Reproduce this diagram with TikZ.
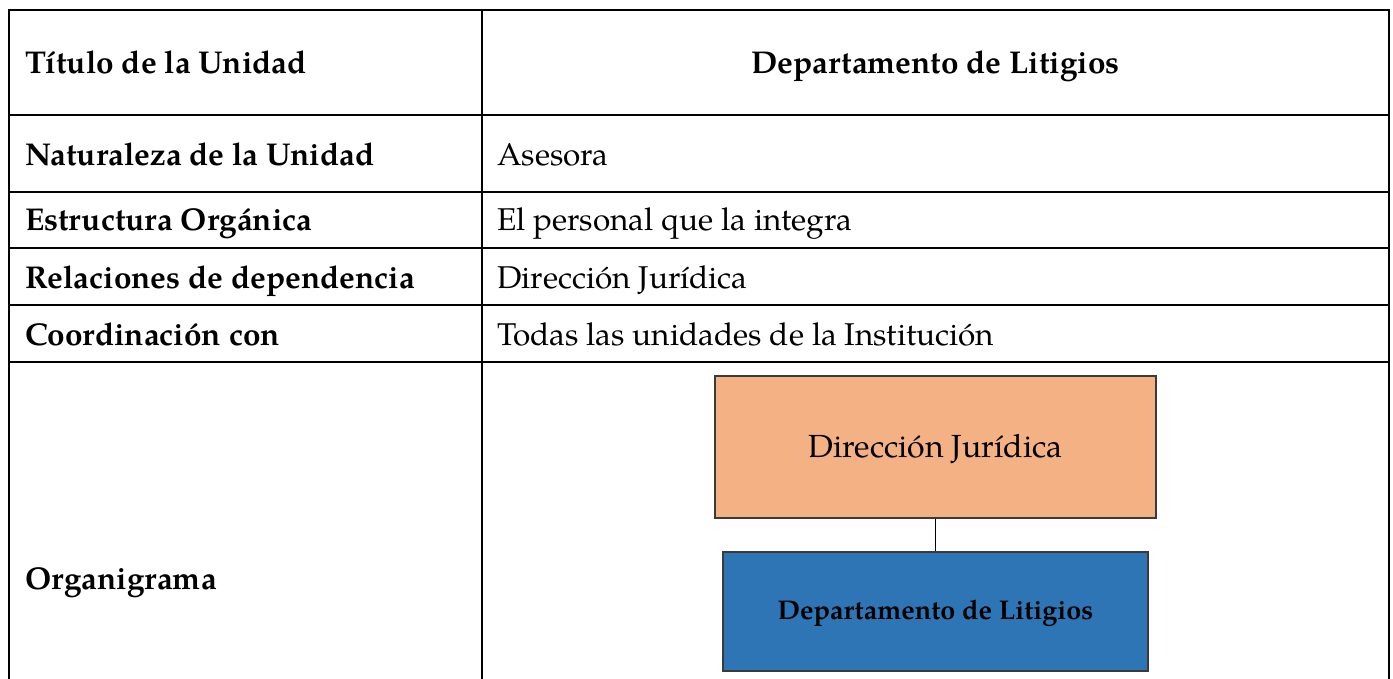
\documentclass[tikz,border=0pt]{standalone}
\usepackage{fontspec}
\setmainfont{TeX Gyre Pagella}
\definecolor{boxorange}{HTML}{F4B183}
\definecolor{boxblue}{HTML}{2E75B6}
\definecolor{boxedge}{HTML}{3A3A3A}
\begin{document}
\begin{tikzpicture}[x=1pt,y=-1pt,
  grid/.style={line width=1.7pt,black},
  lbl/.style={anchor=base west,inner sep=0pt,font=\fontsize{31.5}{36}\selectfont\bfseries},
  val/.style={anchor=base west,inner sep=0pt,font=\fontsize{31.5}{36}\selectfont},
  orgbox/.style={draw=boxedge,line width=1.4pt,inner sep=0pt}]
\useasboundingbox (0,0) rectangle (1393,679);
% table grid
\draw[grid] (9,700) -- (9,10) -- (1389,10) -- (1389,700);
\draw[grid] (482,10) -- (482,700);
\draw[grid] (9,115) -- (1389,115);
\draw[grid] (9,192) -- (1389,192);
\draw[grid] (9,248) -- (1389,248);
\draw[grid] (9,305) -- (1389,305);
\draw[grid] (9,362) -- (1389,362);
% labels
\node[lbl] (l1) at (25,74) {Título de la Unidad};
\node[lbl] (l2) at (25,166) {Naturaleza de la Unidad};
\node[lbl] (l3) at (25,231) {Estructura Orgánica};
\node[lbl] (l4) at (25,288) {Relaciones de dependencia};
\node[lbl] (l5) at (25,345) {Coordinación con};
\node[lbl] (l6) at (25,589) {Organigrama};
% values
\node[anchor=base,inner sep=0pt,font=\fontsize{31.5}{36}\selectfont\bfseries] (v1) at (935.5,74) {Departamento de Litigios};
\node[val] (v2) at (497,166) {Asesora};
\node[val] (v3) at (497,231) {El personal que la integra};
\node[val] (v4) at (497,288) {Dirección Jurídica};
\node[val] (v5) at (497,345) {Todas las unidades de la Institución};
% organigram
\node[orgbox,fill=boxorange,minimum width=441pt,minimum height=142pt] (dj) at (935.5,447) {};
\node[anchor=base,inner sep=0pt,font=\fontsize{32}{36}\selectfont] (djt) at (935.5,457) {Dirección Jurídica};
\node[orgbox,fill=boxblue,minimum width=425pt,minimum height=119pt] (dl) at (935.5,611.5) {};
\node[anchor=base,inner sep=0pt,font=\fontsize{27}{31}\selectfont\bfseries] (dlt) at (935.5,619) {Departamento de Litigios};
\draw[line width=1.4pt,black] (dj.south) -- (dl.north);
\end{tikzpicture}
\end{document}
